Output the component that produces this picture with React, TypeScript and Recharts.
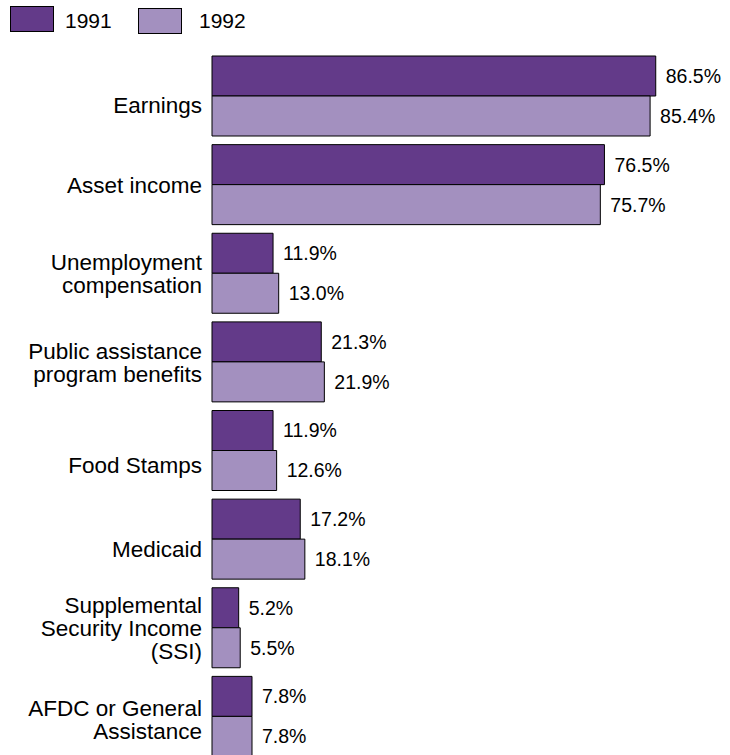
import React from 'react';
import { BarChart, Bar, XAxis, YAxis, Legend, LabelList } from 'recharts';

const categories = [
  'Earnings',
  'Asset income',
  'Unemployment\ncompensation',
  'Public assistance\nprogram benefits',
  'Food Stamps',
  'Medicaid',
  'Supplemental\nSecurity Income\n(SSI)',
  'AFDC or General\nAssistance',
];
const values1991 = [86.5, 76.5, 11.9, 21.3, 11.9, 17.2, 5.2, 7.8];
const values1992 = [85.4, 75.7, 13.0, 21.9, 12.6, 18.1, 5.5, 7.8];
const seriesNames = ['1991', '1992'];

const COLORS = ['#633a89', '#a390bf'];
const FONT = '"Liberation Sans", Arial, Helvetica, sans-serif';
// small vertical nudges for category labels, as in the reference layout
const tickNudge: Record<string, number> = {
  Earnings: 9,
  'Food Stamps': 14.5,
  Medicaid: 9.5,
  'AFDC or General\nAssistance': 2.5,
};

const data = categories.map((c, i) => ({
  name: c,
  y1991: values1991[i],
  y1992: values1992[i],
}));

const CategoryTick = (props: any) => {
  const { x, y, payload } = props;
  const label = String(payload.value);
  const lines = label.split('\n');
  const lh = 22.8;
  const fs = 22.5;
  const nudge = tickNudge[label] || 0;
  const startDy = -((lines.length - 1) * lh) / 2 + fs * 0.36 + nudge;
  return (
    <text x={x} y={y} textAnchor="end" fontFamily={FONT} fontSize={fs} fill="#000">
      {lines.map((l, i) => (
        <tspan key={i} x={x} dy={i === 0 ? startDy : lh}>
          {l}
        </tspan>
      ))}
    </text>
  );
};

const LegendContent = () => (
  <div style={{ position: 'relative', width: 300, height: 40, fontFamily: FONT, fontSize: 21, color: '#000' }}>
    {seriesNames.map((n, i) => (
      <React.Fragment key={n}>
        <div
          style={{
            position: 'absolute',
            left: 10 + i * 128,
            top: 6 + i * 2,
            width: 44,
            height: 26,
            boxSizing: 'border-box',
            border: '1px solid #000',
            background: COLORS[i],
          }}
        />
        <div style={{ position: 'absolute', left: 65 + i * 134, top: 8, lineHeight: '26px', whiteSpace: 'nowrap' }}>{n}</div>
      </React.Fragment>
    ))}
  </div>
);

const fmt = (v: any) => `${Number(v).toFixed(1)}%`;

export default function App() {
  return (
    <div style={{ position: 'fixed', left: 0, top: 0, width: 730, height: 755, overflow: 'hidden', background: '#fff' }}>
      <BarChart
        width={730}
        height={761}
        data={data}
        layout="vertical"
        barGap={0}
        margin={{ top: 52, right: 5, bottom: 0, left: 0 }}
      >
        <XAxis type="number" domain={[0, 100]} hide />
        <YAxis
          type="category"
          dataKey="name"
          width={212}
          tickLine={false}
          axisLine={false}
          tickSize={0}
          tickMargin={10}
          interval={0}
          tick={<CategoryTick />}
        />
        <Legend
          layout="horizontal"
          verticalAlign="middle"
          align="center"
          wrapperStyle={{ top: 0, left: 0, width: 300 }}
          content={<LegendContent />}
        />
        <Bar dataKey="y1991" name={seriesNames[0]} fill={COLORS[0]} stroke="#000" strokeWidth={1} barSize={40} isAnimationActive={false}>
          <LabelList dataKey="y1991" position="right" offset={10} formatter={fmt} fill="#000" stroke="none" fontSize={19.5} fontFamily={FONT} />
        </Bar>
        <Bar dataKey="y1992" name={seriesNames[1]} fill={COLORS[1]} stroke="#000" strokeWidth={1} barSize={40} isAnimationActive={false}>
          <LabelList dataKey="y1992" position="right" offset={10} formatter={fmt} fill="#000" stroke="none" fontSize={19.5} fontFamily={FONT} />
        </Bar>
      </BarChart>
    </div>
  );
}
